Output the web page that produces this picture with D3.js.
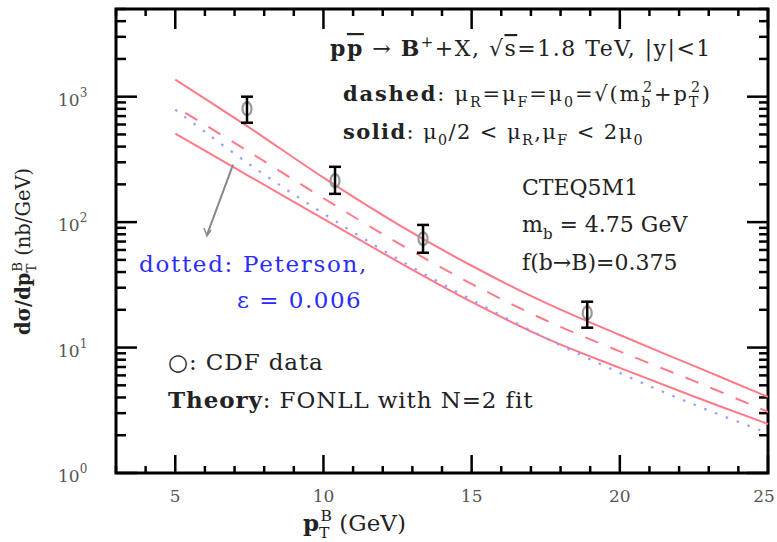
<!DOCTYPE html>
<html>
<head>
<meta charset="utf-8">
<script src="https://cdn.jsdelivr.net/npm/d3@7"></script>
<style>
body { margin: 0; background: #fff; }
text { font-family: "DejaVu Serif", serif; fill: #222; }
</style>
</head>
<body>
<div id="vis"></div>
<script>
// theory curves (nb/GeV) on a pT grid
const ptGrid = [5, 7.5, 10, 12.5, 15, 17.5, 20, 22.5, 25];
const solidUpper = [1367, 566, 226, 96.4, 44.9, 22.7, 12.6, 7.14, 4.04];
const solidLower = [507, 232, 106, 48.6, 23.1, 11.9, 6.88, 4.07, 2.46];
const dashedCentral = [832, 362, 155, 68.4, 32.2, 16.5, 9.32, 5.42, 3.07];
const dottedPeterson = [787, 289, 117, 51.0, 24.0, 11.9, 6.28, 3.51, 2.08];

// CDF data
const cdfPt = [7.42, 10.39, 13.36, 18.9];
const cdfVal = [802, 214, 73.6, 18.9];
const cdfHi = [1000, 276, 95, 23.2];
const cdfLo = [620, 168, 57, 14.4];

const xMajor = [5, 10, 15, 20, 25];
const yMajor = [1, 10, 100, 1000];
const yLabels = ["0", "1", "2", "3"];

const width = 777, height = 542;
const margin = {top: 9, right: 9, bottom: 69, left: 116};

const svg = d3.select("#vis")
    .append("svg")
    .attr("width", width)
    .attr("height", height);

const x = d3.scaleLinear().domain([3, 25]).range([margin.left, width - margin.right]);
const y = d3.scaleLog().domain([1, 5000]).range([height - margin.bottom, margin.top]);

const x0 = x.range()[0], x1 = x.range()[1], y0 = y.range()[0], y1 = y.range()[1];

// ticks
const xMinor = d3.range(3, 26).filter(v => v % 5 !== 0);
const yMinor = [];
[1, 10, 100, 1000].forEach(d => d3.range(2, 10).forEach(m => { if (d * m <= 5000) yMinor.push(d * m); }));

const tg = svg.append("g").attr("stroke", "#000").attr("stroke-width", 2.5);
xMajor.forEach(v => {
    tg.append("line").attr("x1", x(v)).attr("x2", x(v)).attr("y1", y0).attr("y2", y0 - 18);
    tg.append("line").attr("x1", x(v)).attr("x2", x(v)).attr("y1", y1).attr("y2", y1 + 20);
});
xMinor.forEach(v => {
    tg.append("line").attr("x1", x(v)).attr("x2", x(v)).attr("y1", y0).attr("y2", y0 - 7);
    tg.append("line").attr("x1", x(v)).attr("x2", x(v)).attr("y1", y1).attr("y2", y1 + 7);
});
yMajor.forEach(v => {
    tg.append("line").attr("x1", x0).attr("x2", x0 + 21).attr("y1", y(v)).attr("y2", y(v));
    tg.append("line").attr("x1", x1).attr("x2", x1 - 21).attr("y1", y(v)).attr("y2", y(v));
});
yMinor.forEach(v => {
    tg.append("line").attr("x1", x0).attr("x2", x0 + 10).attr("y1", y(v)).attr("y2", y(v));
    tg.append("line").attr("x1", x1).attr("x2", x1 - 9).attr("y1", y(v)).attr("y2", y(v));
});

// frame
svg.append("rect")
    .attr("x", x0).attr("y", y1)
    .attr("width", x1 - x0).attr("height", y0 - y1)
    .attr("fill", "none").attr("stroke", "#000").attr("stroke-width", 3);

// tick labels
xMajor.forEach(v => {
    svg.append("text").attr("x", Math.min(x(v), width - 13)).attr("y", y0 + 29)
        .attr("text-anchor", "middle").attr("font-size", 17).style("fill", "#555")
        .text(v);
});
yMajor.forEach((v, i) => {
    const t = svg.append("text").attr("x", x0 - 58).attr("y", y(v) + 9)
        .attr("font-size", 17).style("fill", "#555");
    t.append("tspan").text("10");
    t.append("tspan").attr("dy", -9).attr("font-size", 12).text(yLabels[i]);
});

// rich text helper
function rich(parent, px, py, size, parts, spacing) {
    const t = parent.append("text").attr("x", px).attr("y", py).attr("font-size", size)
        .attr("letter-spacing", spacing || 0);
    let cur = 0;
    parts.forEach(p => {
        const s = p[0], k = (p[1] || "").split(" "), back = p[2] || 0;
        const off = k.includes("sub") ? 0.3 * size : k.includes("sup") ? -0.42 * size : 0;
        const ts = t.append("tspan").text(s).attr("dy", off - cur);
        cur = off;
        if (k.includes("sub") || k.includes("sup")) ts.attr("font-size", size * 0.68);
        if (k.includes("bold")) ts.attr("font-weight", "bold");
        if (k.includes("over")) ts.style("text-decoration", "overline");
        if (back) ts.attr("dx", back);
    });
    return t;
}

// curves
const line = d3.line()
    .x(d => x(d[0]))
    .y(d => y(d[1]))
    .curve(d3.curveCatmullRom);

const curves = svg.append("g").attr("fill", "none");
curves.append("path").datum(d3.zip(ptGrid, solidUpper)).attr("d", line)
    .attr("stroke", "#ff7a88").attr("stroke-width", 2);
curves.append("path").datum(d3.zip(ptGrid, solidLower)).attr("d", line)
    .attr("stroke", "#ff7a88").attr("stroke-width", 2);
curves.append("path").datum(d3.zip(ptGrid, dashedCentral)).attr("d", line)
    .attr("stroke", "#ff7a88").attr("stroke-width", 2).attr("stroke-dasharray", "0,12,14,1");
curves.append("path").datum(d3.zip(ptGrid, dottedPeterson)).attr("d", line)
    .attr("stroke", "#9a9aff").attr("stroke-width", 2.2).attr("stroke-dasharray", "2.5,9");

// data points
const pts = svg.append("g");
cdfPt.forEach((v, i) => {
    pts.append("ellipse").attr("cx", x(v)).attr("cy", y(cdfVal[i]))
        .attr("rx", 4.5).attr("ry", 6.5)
        .attr("fill", "none").attr("stroke", "#999").attr("stroke-width", 2.2);
    const eg = pts.append("g").attr("stroke", "#000").attr("stroke-width", 2.5);
    eg.append("line").attr("x1", x(v)).attr("x2", x(v)).attr("y1", y(cdfHi[i])).attr("y2", y(cdfLo[i]));
    eg.append("line").attr("x1", x(v) - 6).attr("x2", x(v) + 6).attr("y1", y(cdfHi[i])).attr("y2", y(cdfHi[i]));
    eg.append("line").attr("x1", x(v) - 6).attr("x2", x(v) + 6).attr("y1", y(cdfLo[i])).attr("y2", y(cdfLo[i]));
});

// arrow pointing from the Peterson label to the dotted curve
const arrowFrom = [6.07, 79], arrowTo = [6.95, 287];
svg.append("line")
    .attr("x1", x(arrowFrom[0])).attr("y1", y(arrowFrom[1]))
    .attr("x2", x(arrowTo[0])).attr("y2", y(arrowTo[1]))
    .attr("stroke", "#888").attr("stroke-width", 2);
svg.append("path")
    .attr("d", `M${x(arrowFrom[0]) - 3},${y(arrowFrom[1]) - 7}L${x(arrowFrom[0])},${y(arrowFrom[1]) + 1}L${x(arrowFrom[0]) + 4},${y(arrowFrom[1]) - 5}`)
    .attr("fill", "none").attr("stroke", "#888").attr("stroke-width", 1.5);

// annotations
rich(svg, 330, 56, 22, [["p", "bold"], ["p", "bold over"], [" → "], ["B", "bold"], ["+", "sup"], ["+X, √"], ["s", "over"], ["=1.8 TeV, |y|<1"]], 1.5);
rich(svg, 343, 101, 21, [["dashed", "bold"], [": μ"], ["R", "sub"], ["=μ"], ["F", "sub"], ["=μ"], ["0", "sub"], ["=√(m"], ["b", "sub"], ["2", "sup", -9], ["+p"], ["T", "sub"], ["2", "sup", -9], [")"]], 1.8);
rich(svg, 343, 139, 21, [["solid", "bold"], [": μ"], ["0", "sub"], ["/2 < μ"], ["R", "sub"], [",μ"], ["F", "sub"], [" < 2μ"], ["0", "sub"]], 1.4);

rich(svg, 522, 195, 22, [["CTEQ5M1"]]);
rich(svg, 522, 232, 22, [["m"], ["b", "sub"], [" = 4.75 GeV"]]);
rich(svg, 522, 270, 22, [["f(b→B)=0.375"]]);

const pet = svg.append("g").attr("class", "peterson");
rich(pet, 139, 272, 23, [["dotted: Peterson,"]], 1.7).selectAll("tspan").style("fill", "#2b2bff");
rich(pet, 237, 308, 23, [["ε = 0.006"]], 1.5).selectAll("tspan").style("fill", "#2b2bff");

rich(svg, 168, 370, 23, [["○: CDF data"]], 0.9);
rich(svg, 168, 408, 23, [["Theory", "bold"], [": FONLL with N=2 fit"]], 0.9);

// axis titles
rich(svg, 303, 531, 23, [["p", "bold"], ["T", "sub"], ["B", "sup", -9], [" (GeV)"]]);
const yl = svg.append("g").attr("transform", "translate(30,335) rotate(-90)");
rich(yl, 0, 0, 19.5, [["dσ/dp", "bold"], ["T", "sub"], ["B", "sup", -8], [" (nb/GeV)"]]);
</script>
</body>
</html>
